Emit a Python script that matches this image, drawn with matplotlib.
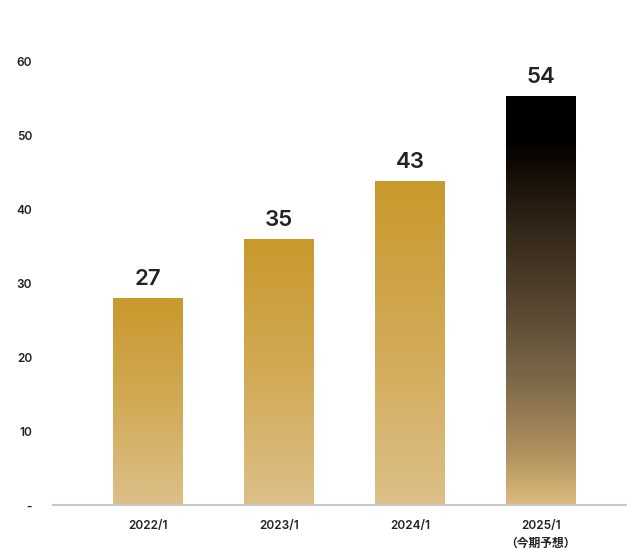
#!/usr/bin/env python3
"""
Bar chart with gradient fills (forecast bar in black-to-gold)
"""

import matplotlib
matplotlib.use('Agg')
import matplotlib.pyplot as plt
from matplotlib.colors import LinearSegmentedColormap
import numpy as np

plt.rcParams['font.family'] = ['Inter', 'Noto Sans CJK JP', 'DejaVu Sans']

# Data
categories = ['2022/1', '2023/1', '2024/1', '2025/1\n（今期予想）']
bar_heights = [28.0, 35.9, 43.8, 55.3]
value_labels = ['27', '35', '43', '54']
y_ticks = [0, 10, 20, 30, 40, 50, 60]
y_tick_labels = ['-', '10', '20', '30', '40', '50', '60']

gold_cmap = LinearSegmentedColormap.from_list(
    'gold', [(0.0, '#dcc088'), (0.5, '#d2aa56'), (1.0, '#c8992c')])
dark_cmap = LinearSegmentedColormap.from_list(
    'dark', [(0.0, '#dcbc7c'), (0.12, '#b2925f'), (0.3, '#7e6a4a'),
             (0.5, '#54442f'), (0.7, '#2e2316'), (0.82, '#140b03'),
             (0.9, '#000000'), (1.0, '#000000')])

fig = plt.figure(figsize=(6.27, 5.5), dpi=100)
ax = fig.add_axes([0.0845, 0.0818, 0.9155, 0.8055])

x = np.arange(len(categories))
width = 0.534
grad = np.linspace(0, 1, 256).reshape(-1, 1)

for i, h in enumerate(bar_heights):
    cmap = dark_cmap if i == len(bar_heights) - 1 else gold_cmap
    ax.imshow(grad, cmap=cmap, origin='lower', aspect='auto',
              extent=[x[i] - width / 2, x[i] + width / 2, 0, h],
              interpolation='bicubic', zorder=2)
    ax.text(x[i], h + 1.3, value_labels[i], ha='center', va='bottom',
            fontsize=16, fontweight='semibold', color='#222222')

ax.set_xlim(-0.725, 3.657)
ax.set_ylim(0, 60)

ax.set_xticks(x)
ax.set_xticklabels(categories, fontsize=8.5, fontweight='semibold', color='#222222',
                   linespacing=1.6, va='top')
ax.set_yticks(y_ticks)
ax.set_yticklabels(y_tick_labels, fontsize=8.5, fontweight='semibold', color='#222222')
ax.tick_params(axis='both', length=0)
ax.tick_params(axis='x', pad=11)
ax.tick_params(axis='y', pad=15)

for side in ['left', 'right', 'top']:
    ax.spines[side].set_visible(False)
ax.spines['bottom'].set_color('#c8c8c8')
ax.spines['bottom'].set_linewidth(1.5)
ax.spines['bottom'].set_zorder(3)

plt.savefig('out.png', dpi=100)
plt.close()
